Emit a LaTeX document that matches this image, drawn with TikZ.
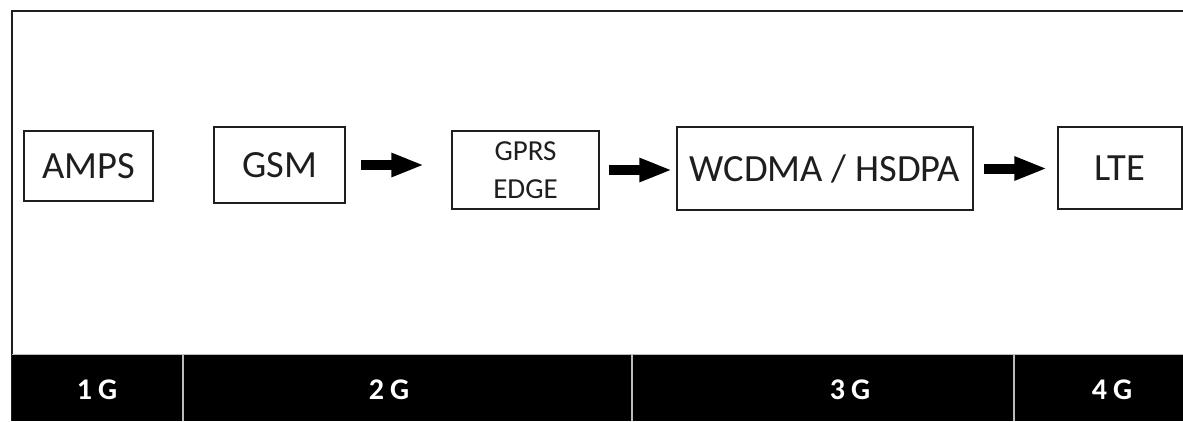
\documentclass[tikz,border=0pt]{standalone}
\usepackage{fontspec}
\setmainfont{Carlito}
\usetikzlibrary{arrows.meta}
\definecolor{sepgray}{HTML}{BBBBBB}
\definecolor{ink}{HTML}{1E1E1E}
\tikzset{
  tech/.style={draw=ink, line width=1.4pt, fill=white, text=ink, inner sep=0pt,
    font=\fontsize{38.5}{42}\selectfont, anchor=center},
  smalltech/.style={tech, font=\fontsize{29}{38}\selectfont, align=center},
  blockarrow/.style={line width=10pt, black,
    -{Triangle[length=33pt,width=22pt]}},
  genlabel/.style={text=white, font=\fontsize{30}{32}\selectfont\bfseries, anchor=center},
  sepline/.style={draw=sepgray, line width=1.2pt}
}
\begin{document}
\begin{tikzpicture}[x=1pt,y=-1pt]
  \useasboundingbox (0,0) rectangle (1183,421);
  % outer frame (open on the right)
  \draw[ink, line width=1.4pt] (1183,11) -- (12,11) -- (12,421);
  % generation band
  \fill[black] (12,354) rectangle (1183,421);
  \draw[sepgray, line width=1pt] (12,354) -- (1183,354);
  \coordinate (s1) at (183,354);
  \coordinate (s2) at (632,354);
  \coordinate (s3) at (1014,354);
  \draw[sepline] (s1) -- (183,421);
  \draw[sepline] (s2) -- (632,421);
  \draw[sepline] (s3) -- (1014,421);
  \node[genlabel] (g1) at (97,390) {1\hspace{6pt}G};
  \node[genlabel] (g2) at (389,390) {2\hspace{6pt}G};
  \node[genlabel] (g3) at (850,390) {3\hspace{6pt}G};
  \node[genlabel] (g4) at (1112,390) {4\hspace{6pt}G};
  % technologies
  \node[tech, minimum width=129pt, minimum height=70pt] (amps) at (88.5,166) {AMPS};
  \node[tech, minimum width=131pt, minimum height=76pt] (gsm) at (279.5,165) {GSM};
  \node[smalltech, minimum width=147pt, minimum height=78pt] (gprs) at (525.5,170) {GPRS\\EDGE};
  \node[tech, minimum width=296pt, minimum height=83pt] (wcdma) at (825,168.5) {WCDMA / HSDPA};
  \node[tech, minimum width=124pt, minimum height=82pt] (lte) at (1120,168) {LTE};
  % evolution arrows
  \draw[blockarrow, shorten <=15pt, shorten >=27pt] (gsm.east) -- (gsm.east -| gprs.west);
  \draw[blockarrow, shorten <=9pt, shorten >=4pt] (gprs.east) -- (gprs.east -| wcdma.west);
  \draw[blockarrow, shorten <=10pt, shorten >=10pt] (wcdma.east) -- (wcdma.east -| lte.west);
\end{tikzpicture}
\end{document}
